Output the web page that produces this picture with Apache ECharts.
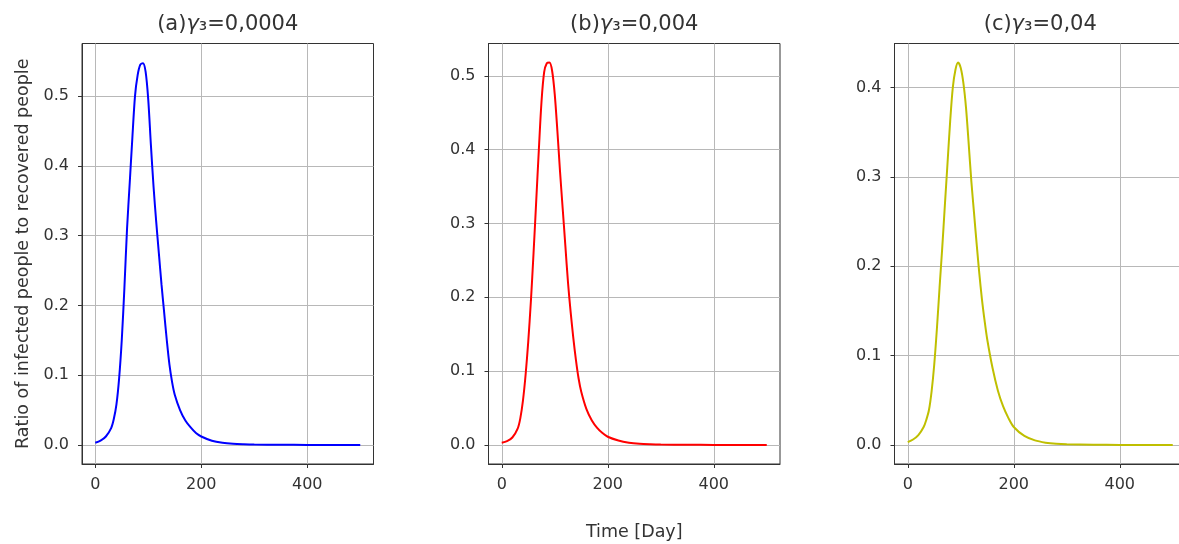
<!DOCTYPE html>
<html>
<head>
<meta charset="utf-8">
<script src="https://cdn.jsdelivr.net/npm/echarts@6/dist/echarts.min.js"></script>
<style>
html,body{margin:0;padding:0;background:#fff;}
#chart{width:1179px;height:544px;}
</style>
</head>
<body>
<div id="chart"></div>
<script>
// Time axis (days), shared sampling for all three panels
const days = [0,10,20,30,35,40,45,50,55,60,65,70,75,80,85,90,95,100,105,110,115,120,125,130,135,140,145,150,160,170,180,190,200,220,240,260,280,300,350,400,450,500];
// (a) gamma3 = 0,0004  (blue)
const ratioA = [0.003,0.006,0.012,0.024,0.037,0.058,0.095,0.15,0.225,0.31,0.375,0.44,0.50,0.53,0.545,0.547,0.535,0.495,0.43,0.37,0.32,0.275,0.23,0.19,0.15,0.115,0.09,0.072,0.05,0.035,0.025,0.017,0.012,0.006,0.003,0.0015,0.0008,0.0004,0.0001,0,0,0];
// (b) gamma3 = 0,004  (red)
const ratioB = [0.003,0.005,0.01,0.022,0.036,0.06,0.095,0.14,0.195,0.26,0.33,0.40,0.465,0.505,0.517,0.518,0.507,0.475,0.425,0.37,0.32,0.27,0.22,0.18,0.145,0.115,0.09,0.072,0.048,0.033,0.023,0.016,0.011,0.006,0.003,0.0015,0.0008,0.0004,0.0001,0,0,0];
// (c) gamma3 = 0,04  (yellow)
const ratioC = [0.003,0.006,0.011,0.02,0.028,0.039,0.06,0.09,0.13,0.176,0.22,0.268,0.315,0.362,0.40,0.42,0.428,0.422,0.405,0.377,0.337,0.295,0.26,0.225,0.192,0.163,0.139,0.118,0.086,0.061,0.043,0.03,0.02,0.01,0.005,0.0025,0.0012,0.0006,0.0001,0,0,0];

const titles = ['(a){g|γ}₃=0,0004', '(b){g|γ}₃=0,004', '(c){g|γ}₃=0,04'];
const xTicks = [0, 200, 400];
const yTicksAB = [0, 0.1, 0.2, 0.3, 0.4, 0.5];
const yTicksC = [0, 0.1, 0.2, 0.3, 0.4];
const colors = ['#0000ff', '#ff0000', '#bfbf00'];
const yLabel = 'Ratio of infected people to recovered people';
const xLabel = 'Time [Day]';

const FONT = 'DejaVu Sans';
const TXT = '#333';
const grids = [
  {left: 82, top: 43.5, width: 291.5, height: 420.5},
  {left: 488.5, top: 43.5, width: 291.5, height: 420.5},
  {left: 894.5, top: 43.5, width: 291.5, height: 420.5}
];
const yRanges = [[-0.0274, 0.5754], [-0.0259, 0.5439], [-0.0214, 0.4494]];
const yTicks = [yTicksAB, yTicksAB, yTicksC];
const series = [ratioA, ratioB, ratioC];

const option = {
  animation: false,
  backgroundColor: '#fff',
  title: grids.map((g, i) => ({
    text: titles[i],
    left: g.left + g.width / 2,
    top: 14,
    padding: 0,
    textAlign: 'center',
    textStyle: {
      fontFamily: FONT, fontSize: 21, fontWeight: 'normal', color: TXT,
      rich: { g: { fontFamily: FONT, fontSize: 21, fontStyle: 'italic', color: TXT } }
    }
  })),
  grid: grids.map(g => Object.assign({show: true, borderColor: '#333', borderWidth: 1,
    containLabel: false, outerBoundsMode: 'none'}, g)),
  xAxis: grids.map((g, i) => ({
    type: 'value', gridIndex: i, min: -25, max: 525,
    axisLine: {show: true, onZero: false, lineStyle: {color: '#333', width: 1}},
    axisTick: {show: true, length: 4, customValues: xTicks, lineStyle: {color: '#333'}},
    axisLabel: {customValues: xTicks, fontFamily: FONT, fontSize: 16, color: TXT, margin: 13},
    splitLine: {show: true, lineStyle: {color: '#b8b8b8', width: 1}},
    name: i === 1 ? xLabel : '',
    nameLocation: 'middle', nameGap: 59,
    nameTextStyle: {fontFamily: FONT, fontSize: 17.5, color: TXT}
  })),
  yAxis: grids.map((g, i) => ({
    type: 'value', gridIndex: i, min: yRanges[i][0], max: yRanges[i][1],
    axisLine: {show: true, onZero: false, lineStyle: {color: '#333', width: 1}},
    axisTick: {show: true, length: 4, customValues: yTicks[i], lineStyle: {color: '#333'}},
    axisLabel: {customValues: yTicks[i], fontFamily: FONT, fontSize: 16, color: TXT, margin: 13,
      formatter: v => v.toFixed(1)},
    splitLine: {show: true, lineStyle: {color: '#b8b8b8', width: 1}},
    name: i === 0 ? yLabel : '',
    nameLocation: 'middle', nameGap: 50, nameRotate: 90,
    nameTextStyle: {fontFamily: FONT, fontSize: 17.5, color: TXT}
  })),
  series: series.map((vals, i) => ({
    type: 'line', xAxisIndex: i, yAxisIndex: i,
    data: days.map((d, k) => [d, vals[k]]),
    showSymbol: false, smooth: 0.3,
    lineStyle: {color: colors[i], width: 2},
    itemStyle: {color: colors[i]}
  }))
};
const chart = echarts.init(document.getElementById('chart'), null, {renderer: 'canvas'});
chart.setOption(option);
</script>
</body>
</html>
